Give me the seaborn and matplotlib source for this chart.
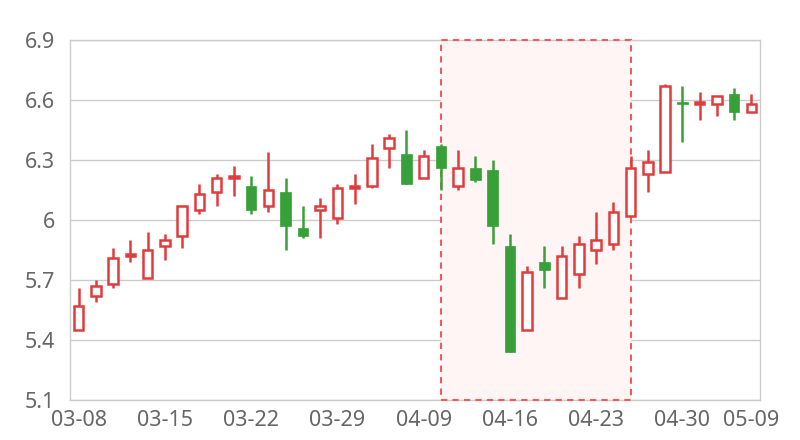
import numpy as np
import matplotlib
matplotlib.use("Agg")
import matplotlib.pyplot as plt
import seaborn as sns
import pandas as pd
from matplotlib.patches import Rectangle

# data
dates = ["03-08", "03-11", "03-12", "03-13", "03-14", "03-15", "03-18", "03-19",
         "03-20", "03-21", "03-22", "03-25", "03-26", "03-27", "03-28", "03-29",
         "04-01", "04-02", "04-03", "04-04", "04-09", "04-10", "04-11", "04-12",
         "04-15", "04-16", "04-17", "04-18", "04-19", "04-22", "04-23", "04-24",
         "04-25", "04-26", "04-29", "04-30", "05-06", "05-07", "05-08", "05-09"]
open_ = [5.45, 5.62, 5.68, 5.82, 5.71, 5.87, 5.92, 6.05, 6.14, 6.21,
         6.17, 6.07, 6.14, 5.96, 6.05, 6.01, 6.16, 6.17, 6.36, 6.33,
         6.21, 6.37, 6.17, 6.26, 6.25, 5.87, 5.45, 5.79, 5.61, 5.73,
         5.85, 5.88, 6.02, 6.23, 6.24, 6.59, 6.58, 6.58, 6.63, 6.54]
close = [5.57, 5.67, 5.81, 5.83, 5.85, 5.90, 6.07, 6.13, 6.21, 6.22,
         6.05, 6.15, 5.97, 5.92, 6.07, 6.16, 6.17, 6.31, 6.41, 6.18,
         6.32, 6.26, 6.26, 6.20, 5.97, 5.34, 5.74, 5.75, 5.82, 5.88,
         5.90, 6.04, 6.26, 6.29, 6.67, 6.58, 6.59, 6.62, 6.54, 6.58]
high = [5.66, 5.70, 5.86, 5.90, 5.94, 5.93, 6.07, 6.18, 6.23, 6.27,
        6.22, 6.34, 6.21, 6.07, 6.11, 6.18, 6.23, 6.38, 6.43, 6.45,
        6.35, 6.38, 6.35, 6.32, 6.30, 5.93, 5.77, 5.87, 5.87, 5.92,
        6.04, 6.09, 6.32, 6.35, 6.68, 6.67, 6.64, 6.62, 6.66, 6.63]
low = [5.45, 5.59, 5.66, 5.79, 5.71, 5.80, 5.86, 6.03, 6.07, 6.12,
       6.03, 6.04, 5.85, 5.91, 5.91, 5.98, 6.08, 6.16, 6.26, 6.18,
       6.21, 6.15, 6.15, 6.19, 5.88, 5.34, 5.45, 5.66, 5.61, 5.66,
       5.78, 5.85, 6.02, 6.14, 6.24, 6.39, 6.50, 6.52, 6.50, 6.54]
tick_idx = [0, 5, 10, 15, 20, 25, 30, 35, 39]
y_ticks = [5.1, 5.4, 5.7, 6.0, 6.3, 6.6, 6.9]
y_labels = ["5.1", "5.4", "5.7", "6", "6.3", "6.6", "6.9"]
area_start, area_end = "04-10", "04-25"

df = pd.DataFrame({"date": dates, "open": open_, "close": close,
                   "high": high, "low": low})
df["x"] = np.arange(len(df))
df["up"] = df["close"] >= df["open"]

RED = "#e23b3b"
GREEN = "#38a038"

sns.set_theme(style="white")
plt.rcParams["font.family"] = ["Noto Sans", "DejaVu Sans"]

fig = plt.figure(figsize=(8, 4.4), dpi=100)
ax = fig.add_axes([70 / 800, 1 - 400 / 440, 690 / 800, 360 / 440])

ax.set_xlim(-0.5, len(df) - 0.5)
ax.set_ylim(5.1, 6.9)

# highlighted area: fill under the candles, dashed border drawn on top of spines
x0 = df.loc[df.date == area_start, "x"].iloc[0]
x1 = df.loc[df.date == area_end, "x"].iloc[0]
ax.add_patch(Rectangle((x0, 5.1), x1 - x0, 1.8, facecolor="#fff5f5",
                       edgecolor="none", zorder=1))
ax.add_patch(Rectangle((x0, 5.1), x1 - x0, 1.8, facecolor="none",
                       edgecolor="#f05a5a", linestyle=(0, (3, 2.5)),
                       linewidth=1.5, zorder=2.7, clip_on=False))

cols = np.where(df["up"], RED, GREEN)
ax.vlines(df["x"], df["low"], df["high"], colors=cols, linewidth=1.8, zorder=3)

bottom = df[["open", "close"]].min(axis=1)
height = (df["close"] - df["open"]).abs().clip(lower=0.004)
up = df[df["up"]]
dn = df[~df["up"]]
ax.bar(up["x"], height[df["up"]], bottom=bottom[df["up"]], width=0.56,
       facecolor="white", edgecolor=RED, linewidth=1.8, zorder=3.5)
ax.bar(dn["x"], height[~df["up"]], bottom=bottom[~df["up"]], width=0.62,
       facecolor=GREEN, edgecolor=GREEN, linewidth=0.5, zorder=3.5)

ax.set_yticks(y_ticks)
ax.set_yticklabels(y_labels)
ax.set_xticks(tick_idx)
ax.set_xticklabels([dates[i] for i in tick_idx])
ax.grid(axis="y", color="#cccccc", linewidth=1)
ax.set_axisbelow(True)
for s in ax.spines.values():
    s.set_color("#cccccc")
    s.set_linewidth(1)
ax.tick_params(axis="both", length=0, labelsize=15.5, labelcolor="#666666")
ax.tick_params(axis="y", pad=11)
ax.tick_params(axis="x", pad=7)

fig.savefig("out.png", dpi=100)
